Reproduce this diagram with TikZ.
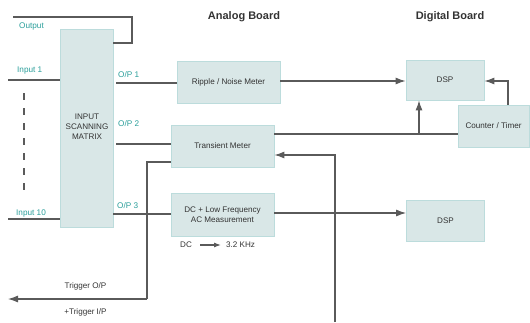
\documentclass[tikz,border=0pt]{standalone}
\usepackage{fontspec}
\setmainfont{Liberation Sans}
\usetikzlibrary{arrows.meta}
\definecolor{boxfill}{HTML}{D9E7E7}
\definecolor{boxline}{HTML}{BCDCDC}
\definecolor{lab}{HTML}{2A9E9A}
\definecolor{wire}{HTML}{5A5A5A}
\definecolor{txt}{HTML}{333333}
\begin{document}
\begin{tikzpicture}[x=1pt,y=-1pt,
  blk/.style={draw=boxline,fill=boxfill,line width=0.8pt,inner sep=0pt,font=\fontsize{8.1}{9.5}\selectfont,text=txt,align=center},
  wl/.style={draw=wire,line width=1.1pt},
  arr/.style={wl,-{Latex[length=10pt,width=7pt]}},
  tl/.style={text=lab,font=\fontsize{8.2}{9}\selectfont,inner sep=0pt,anchor=west},
  bl/.style={text=txt,font=\fontsize{8.1}{9}\selectfont,inner sep=0pt},
  hd/.style={text=txt,font=\bfseries\fontsize{11}{13}\selectfont,inner sep=0pt}]
\useasboundingbox (0,0) rectangle (530,322);
% headers
\node[hd] (hA) at (244,17) {Analog Board};
\node[hd] (hD) at (450,17) {Digital Board};
% boxes
\node[blk,minimum width=53pt,minimum height=198pt] (mx) at (86.5,128) {};
\node[bl,align=center,font=\fontsize{8.1}{10}\selectfont] (mxt) at (87,127) {INPUT\\SCANNING\\MATRIX};
\node[blk,minimum width=103pt,minimum height=42pt] (rip) at (228.5,82) {Ripple / Noise Meter};
\node[blk,minimum width=103pt,minimum height=42pt] (tr) at (222.5,146) {Transient Meter};
\node[blk,minimum width=103pt,minimum height=43pt] (dc) at (222.5,214.5) {DC + Low Frequency\\AC Measurement};
\node[blk,minimum width=78pt,minimum height=40pt] (dsp1) at (445,80) {DSP};
\node[blk,minimum width=78pt,minimum height=41pt] (dsp2) at (445.5,220.5) {DSP};
\node[blk,minimum width=71pt,minimum height=42pt] (ct) at (493.5,126) {Counter / Timer};
% labels
\node[tl] (lout) at (19,26) {Output};
\node[tl] (lin1) at (17,71) {Input 1};
\node[tl] (lin10) at (16,213) {Input 10};
\node[tl] (lop1) at (118,75) {O/P 1};
\node[tl] (lop2) at (118,124) {O/P 2};
\node[tl] (lop3) at (117,206) {O/P 3};
\node[bl] (ldc) at (186,245) {DC};
\node[bl,anchor=west] (lkhz) at (226,245) {3.2 KHz};
\node[bl] (ltro) at (85.5,286) {Trigger O/P};
\node[bl] (ltri) at (85.5,312) {+Trigger I/P};
% coordinates
\coordinate (o1) at (13,17);
\coordinate (o2) at (132,17);
\coordinate (o3) at (132,43);
\coordinate (i1) at (8,80);
\coordinate (i10) at (8,219);
\coordinate (d1) at (24,93);
\coordinate (d2) at (24,193);
\coordinate (fb) at (335,322);
\coordinate (tg) at (147,299);
\coordinate (tgend) at (8,299);
\coordinate (a1) at (200,245);
\coordinate (a2) at (221,245);
% wires
\draw[wl] (o1) -- (o2) -- (o3) -- (o3 -| mx.east);
\draw[wl] (i1) -- (i1 -| mx.west);
\draw[wl] (i10) -- (i10 -| mx.west);
\draw[draw=wire,line width=1.1pt,dash pattern=on 7pt off 8pt] (d1) -- (d2);
\draw[wl] (116,83) -- (rip.west |- 0,83);
\draw[wl] (116,144) -- (tr.west |- 0,144);
\draw[wl] (mx.east |- 0,214) -- (dc.west |- 0,214);
\draw[arr] (rip.east |- 0,81) -- (dsp1.west |- 0,81);
\draw[wl] (tr.east |- 0,134) -- (ct.west |- 0,134);
\draw[arr] (419,134) -- (dsp1.south -| 419,0);
\draw[arr] (ct.north -| 508,0) -- (508,81) -- (dsp1.east |- 0,81);
\draw[arr] (fb) -- (335,155) -- (tr.east |- 0,155);
\draw[arr] (dc.east |- 0,213) -- (dsp2.west |- 0,213);
\draw[wl] (tr.west |- 0,162) -- (147,162) -- (tg);
\draw[arr] (tg) -- (tgend);
\draw[wl,-{Latex[length=7pt,width=5pt]}] (a1) -- (a2);
\end{tikzpicture}
\end{document}
